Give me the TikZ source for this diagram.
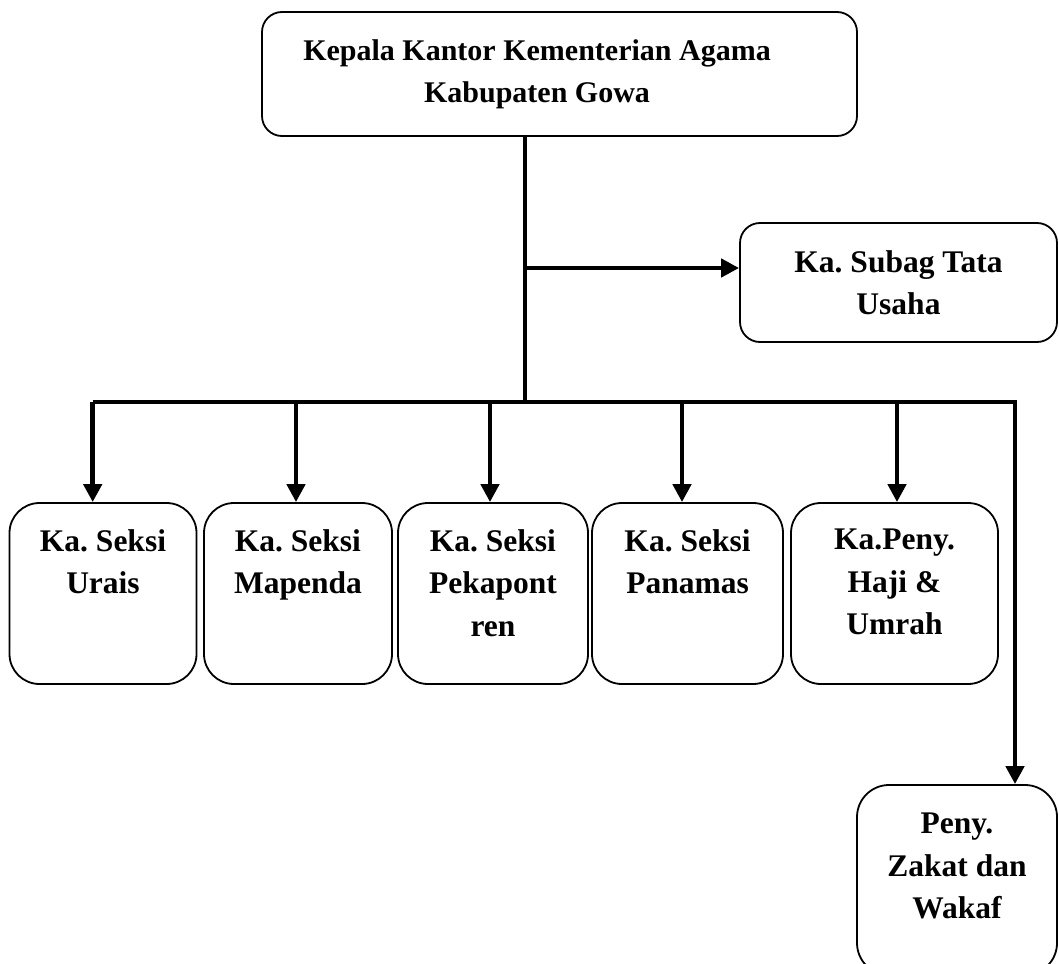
\documentclass[tikz,border=0pt]{standalone}
\usepackage{fontspec}
\setmainfont{Liberation Serif}
\usetikzlibrary{arrows.meta}
\frenchspacing
\tikzset{
  box/.style={draw,line width=1.8pt},
  txt/.style={font=\bfseries\fontsize{31.5}{42.5}\selectfont,align=center},
  lbl/.style={txt,anchor=north,inner sep=0pt},
  conn/.style={line width=4.5pt},
  arr/.style={conn,-{Triangle[length=18pt,width=18pt]}},
}
\begin{document}
\begin{tikzpicture}[x=1pt,y=-1pt]
\useasboundingbox (0,0) rectangle (1059,963);
% head and secretariat
\node[box,rounded corners=20pt,minimum width=595pt,minimum height=124pt] (kepala) at (559.5,74) {};
\node[txt,font=\bfseries\fontsize{30}{42}\selectfont] at ([xshift=-22.5pt]kepala.center) {Kepala Kantor Kementerian Agama\\Kabupaten Gowa};
\node[box,txt,rounded corners=20pt,minimum width=317pt,minimum height=119pt] (subag) at (898.5,282.5) {Ka. Subag Tata\\Usaha};
% sections
\node[box,rounded corners=30pt,minimum width=187pt,minimum height=181pt] (urais) at (103,593.5) {};
\node[box,rounded corners=30pt,minimum width=188pt,minimum height=181pt] (mapenda) at (298,593.5) {};
\node[box,rounded corners=30pt,minimum width=190pt,minimum height=181pt] (pekapontren) at (493,593.5) {};
\node[box,rounded corners=30pt,minimum width=191pt,minimum height=181pt] (panamas) at (687.5,593.5) {};
\node[box,rounded corners=30pt,minimum width=207pt,minimum height=181pt] (haji) at (894.5,593.5) {};
\node[box,rounded corners=32pt,minimum width=200pt,minimum height=190pt] (zakat) at (957,880) {};
\node[lbl] at ([yshift=-27pt]urais.north) {Ka. Seksi\\Urais};
\node[lbl] at ([yshift=-27pt]mapenda.north) {Ka. Seksi\\Mapenda};
\node[lbl] at ([yshift=-27pt]pekapontren.north) {Ka. Seksi\\Pekapont\\ren};
\node[lbl] at ([yshift=-27pt]panamas.north) {Ka. Seksi\\Panamas};
\node[lbl] at ([yshift=-27pt]haji.north) {Ka.Peny.\\Haji \&\\Umrah};
\node[lbl] at ([yshift=-29pt]zakat.north) {Peny.\\Zakat dan\\Wakaf};
% connectors
\coordinate (split) at (525,402);
\coordinate (tap) at (525,268);
\coordinate (corner) at (1015,402);
\draw[conn] (kepala.south -| split) -- (split);
\draw[arr] (tap) -- (tap -| subag.west);
\draw[arr] ([xshift=-10.3pt]urais.north |- split) -- (corner) -- (corner |- zakat.north);
\foreach \n/\dx in {urais/-10.3,mapenda/-2,pekapontren/-3,panamas/-5.5,haji/2.5}
  \draw[arr] ([xshift=\dx pt]\n.north |- split) -- ([xshift=\dx pt]\n.north);
\end{tikzpicture}
\end{document}
